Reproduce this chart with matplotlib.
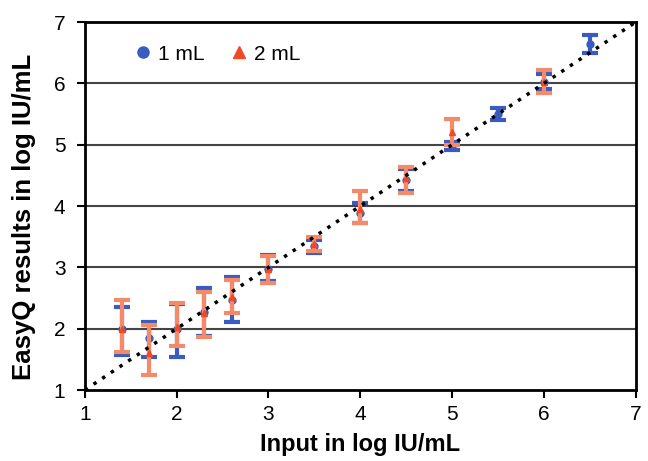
import matplotlib.pyplot as plt
from matplotlib.lines import Line2D
import numpy as np

# input concentrations (log IU/mL)
x_1ml = [1.4, 1.7, 2.0, 2.3, 2.6, 3.0, 3.5, 4.0, 4.5, 5.0, 5.5, 6.0, 6.5]
y_1ml = [2.0, 1.85, 2.0, 2.28, 2.47, 2.97, 3.35, 3.88, 4.43, 4.98, 5.5, 6.03, 6.65]
lo_1ml = [1.57, 1.54, 1.54, 1.88, 2.11, 2.78, 3.23, 3.72, 4.25, 4.92, 5.41, 5.91, 6.49]
hi_1ml = [2.36, 2.11, 2.40, 2.66, 2.85, 3.20, 3.45, 4.05, 4.60, 5.05, 5.60, 6.15, 6.79]

x_2ml = [1.4, 1.7, 2.0, 2.3, 2.6, 3.0, 3.5, 4.0, 4.5, 5.0, 6.0]
y_2ml = [2.0, 1.6, 2.02, 2.25, 2.52, 2.98, 3.38, 3.95, 4.45, 5.2, 6.03]
lo_2ml = [1.62, 1.24, 1.71, 1.87, 2.25, 2.75, 3.26, 3.73, 4.22, 5.0, 5.84]
hi_2ml = [2.47, 2.06, 2.42, 2.60, 2.79, 3.18, 3.50, 4.25, 4.64, 5.42, 6.22]

blue = '#3a5cc0'
red = '#ee4a2a'
orange = '#f58a68'

plt.rcParams['font.family'] = ['Liberation Sans', 'DejaVu Sans']

fig = plt.figure(figsize=(6.48, 4.61), dpi=100)
ax = fig.add_axes([0.131, 0.154, 0.850, 0.798])

y1 = np.array(y_1ml)
ax.errorbar(x_1ml, y1, yerr=[y1 - np.array(lo_1ml), np.array(hi_1ml) - y1],
            fmt='o', color=blue, ecolor=blue, elinewidth=3, capsize=6,
            capthick=3, markersize=5, zorder=3)
y2 = np.array(y_2ml)
ax.errorbar(x_2ml, y2, yerr=[y2 - np.array(lo_2ml), np.array(hi_2ml) - y2],
            fmt='^', color=red, ecolor=orange, elinewidth=3, capsize=6,
            capthick=3, markersize=5, zorder=4)

ax.plot([1, 7], [1, 7], color='black', linestyle=(0, (1, 2)), linewidth=2.5, zorder=5)

ax.set_xlim(1, 7)
ax.set_ylim(1, 7)
ax.set_xticks(range(1, 8))
ax.set_yticks(range(1, 8))
for v in range(2, 7):
    ax.axhline(v, color='#444444', linewidth=1.5, zorder=1)
for s in ax.spines.values():
    s.set_linewidth(2)
ax.tick_params(labelsize=15, width=1.5, length=6)
ax.tick_params(axis='y', pad=8)
ax.tick_params(axis='x', pad=5)

ax.set_xlabel('Input in log IU/mL', fontsize=17, fontweight='bold', labelpad=6)
ax.set_ylabel('EasyQ results in log IU/mL', fontsize=18.5, fontweight='bold')
ax.yaxis.set_label_coords(-0.088, 0.47)

handles = [Line2D([], [], marker='o', color=blue, linestyle='none', markersize=8),
           Line2D([], [], marker='^', color=red, linestyle='none', markersize=8)]
ax.legend(handles, ['1 mL', '2 mL'], loc='upper left', bbox_to_anchor=(0.06, 0.99),
          ncol=2, frameon=False, fontsize=15, handlelength=0.6, handletextpad=0.4,
          columnspacing=1.4)

fig.savefig('out.png', dpi=100)
